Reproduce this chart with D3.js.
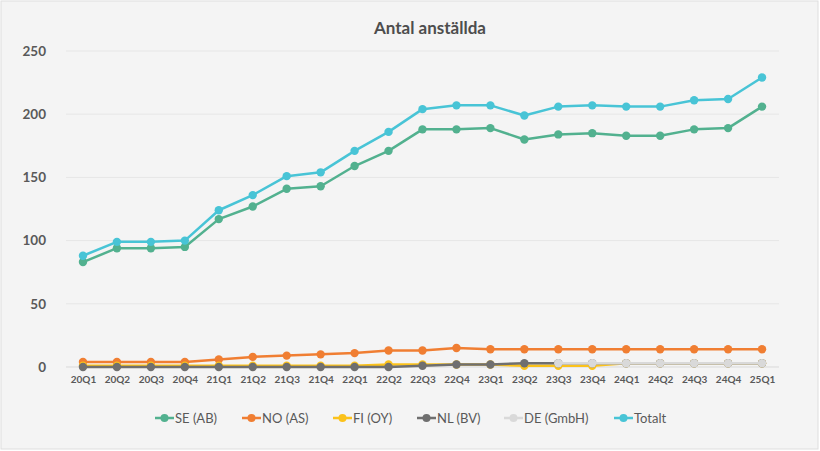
<!DOCTYPE html>
<html>
<head>
<meta charset="utf-8">
<script src="https://cdn.jsdelivr.net/npm/d3@7"></script>
<style>
  body { margin: 0; background: #fff; }
  text { font-family: Lato, "Open Sans", sans-serif; fill: #595959; }
</style>
</head>
<body>
<script>
// quarters on the x axis
var quarters = ["20Q1","20Q2","20Q3","20Q4","21Q1","21Q2","21Q3","21Q4","22Q1","22Q2",
  "22Q3","22Q4","23Q1","23Q2","23Q3","23Q4","24Q1","24Q2","24Q3","24Q4","25Q1"];

var se    = [83, 94, 94, 95, 117, 127, 141, 143, 159, 171, 188, 188, 189, 180, 184, 185, 183, 183, 188, 189, 206];
var no    = [4, 4, 4, 4, 6, 8, 9, 10, 11, 13, 13, 15, 14, 14, 14, 14, 14, 14, 14, 14, 14];
var fi    = [1, 1, 1, 1, 1, 1, 1, 1, 1, 2, 2, 2, 2, 1, 1, 1, 3, 3, 3, 3, 3];
var nl    = [0, 0, 0, 0, 0, 0, 0, 0, 0, 0, 1, 2, 2, 3, 3, 3, 3, 3, 3, 3, 3];
var de    = [null, null, null, null, null, null, null, null, null, null, null, null, null, null, 3, 3, 3, 3, 3, 3, 3];
var total = [88, 99, 99, 100, 124, 136, 151, 154, 171, 186, 204, 207, 207, 199, 206, 207, 206, 206, 211, 212, 229];

var yTicks = [0, 50, 100, 150, 200, 250];

var series = [
  {name: "SE (AB)",   values: se,    color: "#52b18f"},
  {name: "NO (AS)",   values: no,    color: "#f07e32"},
  {name: "FI (OY)",   values: fi,    color: "#fbc21b"},
  {name: "NL (BV)",   values: nl,    color: "#6f6f6f"},
  {name: "DE (GmbH)", values: de,    color: "#d9d9d9"},
  {name: "Totalt",    values: total, color: "#48c4d6"}
];

var w = 820, h = 451;

var svg = d3.select("body").append("svg")
  .attr("width", w)
  .attr("height", h);

svg.append("rect")
  .attr("x", 1).attr("y", 1)
  .attr("width", w - 3).attr("height", h - 3)
  .attr("fill", "#f4f4f4")
  .attr("stroke", "#dedede");

svg.append("text")
  .attr("x", 430).attr("y", 34)
  .attr("text-anchor", "middle")
  .style("font-size", "17px")
  .style("font-weight", "bold")
  .style("fill", "#4d4d4d")
  .text("Antal anställda");

var x = d3.scalePoint().domain(quarters).range([66, 779]).padding(0.5);
var y = d3.scaleLinear().domain([0, 250]).range([367, 51]);

// grid lines + y labels
svg.selectAll("line.grid")
  .data(yTicks)
  .enter()
  .append("line")
  .attr("class", "grid")
  .attr("x1", 66).attr("x2", 779)
  .attr("y1", function(d) { return y(d); })
  .attr("y2", function(d) { return y(d); })
  .attr("stroke", function(d) { return d === 0 ? "#d9d9d9" : "#e6e6e6"; })
  .attr("stroke-width", 1);

svg.selectAll("text.ylab")
  .data(yTicks)
  .enter()
  .append("text")
  .attr("class", "ylab")
  .attr("x", 46)
  .attr("y", function(d) { return y(d); })
  .attr("dy", "0.35em")
  .attr("text-anchor", "end")
  .style("font-size", "13.5px")
  .style("font-weight", "bold")
  .text(function(d) { return d; });

var xAxis = svg.append("g")
  .attr("transform", "translate(0,372)")
  .call(d3.axisBottom(x).tickSize(0).tickPadding(0));
xAxis.select(".domain").remove();
xAxis.selectAll("text")
  .attr("dy", "0.71em")
  .attr("y", 4)
  .style("font-size", "10px")
  .style("font-weight", "bold")
  .style("font-family", "Lato, sans-serif")
  .style("fill", "#595959");

var line = d3.line()
  .defined(function(d) { return d != null; })
  .x(function(d, i) { return x(quarters[i]); })
  .y(function(d) { return y(d); });

series.forEach(function(s) {
  var g = svg.append("g");
  g.append("path")
    .datum(s.values)
    .attr("d", line)
    .attr("fill", "none")
    .attr("stroke", s.color)
    .attr("stroke-width", 2.5)
    .attr("stroke-linejoin", "round");
  g.selectAll("circle")
    .data(s.values.map(function(v, i) { return {v: v, q: quarters[i]}; })
      .filter(function(d) { return d.v != null; }))
    .enter()
    .append("circle")
    .attr("cx", function(d) { return x(d.q); })
    .attr("cy", function(d) { return y(d.v); })
    .attr("r", 4.2)
    .attr("fill", s.color);
});

// legend
var legX = [155, 242, 333, 417, 504, 614];
var leg = svg.selectAll("g.leg")
  .data(series)
  .enter()
  .append("g")
  .attr("class", "leg")
  .attr("transform", function(d, i) { return "translate(" + legX[i] + ",418)"; });
leg.append("line")
  .attr("x1", 0).attr("x2", 19)
  .attr("stroke", function(d) { return d.color; })
  .attr("stroke-width", 2.5);
leg.append("circle")
  .attr("cx", 9.5).attr("r", 4)
  .attr("fill", function(d) { return d.color; });
leg.append("text")
  .attr("x", 20)
  .attr("dy", "0.35em")
  .style("font-size", "13px")
  .text(function(d) { return d.name; });
</script>
</body>
</html>
